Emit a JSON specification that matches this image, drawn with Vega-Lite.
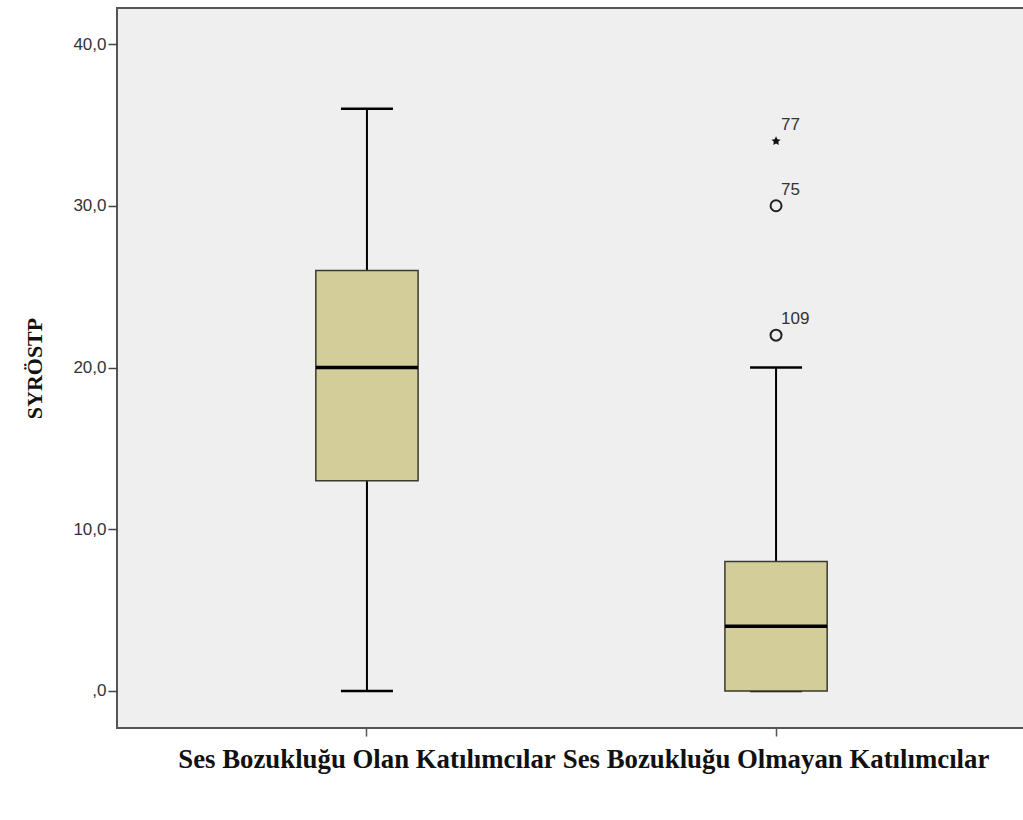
{
  "$schema": "https://vega.github.io/schema/vega-lite/v6.json",
  "autosize": "none",
  "width": 909,
  "height": 720,
  "padding": {"left": 117, "top": 8, "right": 0, "bottom": 92},
  "background": "white",
  "config": {
    "view": {"fill": "#efefef", "stroke": "#555555", "strokeWidth": 2},
    "axis": {"grid": false, "domain": false}
  },
  "datasets": {
    "box": [
      {"group": "Ses Bozukluğu Olan Katılımcılar", "min": 0, "q1": 13, "median": 20, "q3": 26, "max": 36},
      {"group": "Ses Bozukluğu Olmayan Katılımcılar", "min": 0, "q1": 0, "median": 4, "q3": 8, "max": 20}
    ],
    "out": [
      {"group": "Ses Bozukluğu Olmayan Katılımcılar", "value": 22, "id": "109", "kind": "circle"},
      {"group": "Ses Bozukluğu Olmayan Katılımcılar", "value": 30, "id": "75", "kind": "circle"},
      {"group": "Ses Bozukluğu Olmayan Katılımcılar", "value": 34, "id": "77", "kind": "star"}
    ]
  },
  "layer": [
    {
      "data": {"name": "box"},
      "mark": {"type": "rule", "color": "#000000", "strokeWidth": 2},
      "encoding": {
        "x": {
          "field": "group",
          "type": "nominal",
          "sort": null,
          "scale": {"paddingInner": 0, "paddingOuter": 0.111},
          "axis": {
            "title": null,
            "labelAngle": 0,
            "labelLimit": 0,
            "labelExpr": "indexof(datum.label, 'Olmayan') >= 0 ? '\u00a0\u00a0\u00a0\u00a0\u00a0\u00a0\u00a0\u00a0' + datum.label : '\u00a0' + datum.label",
            "labelFont": "Liberation Serif",
            "labelFontWeight": "bold",
            "labelFontSize": 26.8,
            "labelColor": "#111111",
            "labelPadding": 10,
            "labelOverlap": false,
            "tickColor": "#555555",
            "tickSize": 8,
            "tickWidth": 1.5
          }
        },
        "y": {
          "field": "min",
          "type": "quantitative",
          "scale": {"domain": [-2.29, 42.23], "nice": false, "zero": false},
          "axis": {
            "values": [0, 10, 20, 30, 40],
            "labelExpr": "datum.value === 0 ? ',0' : replace(format(datum.value, '.1f'), '.', ',')",
            "labelFont": "Liberation Sans",
            "labelFontSize": 17,
            "labelColor": "#333333",
            "labelPadding": 2,
            "tickColor": "#444444",
            "tickSize": 9,
            "tickWidth": 1.5,
            "title": "SYRÖSTP",
            "titleFont": "Liberation Serif",
            "titleFontWeight": "bold",
            "titleFontSize": 22,
            "titleColor": "#111111",
            "titlePadding": 26
          }
        },
        "y2": {"field": "max"}
      }
    },
    {
      "data": {"name": "box"},
      "mark": {"type": "tick", "color": "#000000", "opacity": 1, "size": 52, "thickness": 2.5},
      "encoding": {"x": {"field": "group", "type": "nominal", "sort": null}, "y": {"field": "min", "type": "quantitative"}}
    },
    {
      "data": {"name": "box"},
      "mark": {"type": "tick", "color": "#000000", "opacity": 1, "size": 52, "thickness": 2.5},
      "encoding": {"x": {"field": "group", "type": "nominal", "sort": null}, "y": {"field": "max", "type": "quantitative"}}
    },
    {
      "data": {"name": "box"},
      "mark": {"type": "bar", "fill": "#d3ce99", "opacity": 1, "stroke": "#3a3a30", "strokeWidth": 1.5, "width": {"band": 0.25}},
      "encoding": {
        "x": {"field": "group", "type": "nominal", "sort": null},
        "y": {"field": "q1", "type": "quantitative"},
        "y2": {"field": "q3"}
      }
    },
    {
      "data": {"name": "box"},
      "mark": {"type": "tick", "color": "#000000", "opacity": 1, "size": 102, "thickness": 3.5},
      "encoding": {"x": {"field": "group", "type": "nominal", "sort": null}, "y": {"field": "median", "type": "quantitative"}}
    },
    {
      "data": {"name": "out"},
      "transform": [{"filter": "datum.kind === 'circle'"}],
      "mark": {"type": "point", "shape": "circle", "filled": false, "color": "#222222", "strokeWidth": 2, "size": 120, "opacity": 1},
      "encoding": {"x": {"field": "group", "type": "nominal", "sort": null}, "y": {"field": "value", "type": "quantitative"}}
    },
    {
      "data": {"name": "out"},
      "transform": [{"filter": "datum.kind === 'star'"}],
      "mark": {"type": "point", "shape": "M0,-1L0.29,-0.4L0.95,-0.31L0.47,0.15L0.59,0.81L0,0.5L-0.59,0.81L-0.47,0.15L-0.95,-0.31L-0.29,-0.4Z", "filled": true, "color": "#111111", "size": 90, "opacity": 1},
      "encoding": {"x": {"field": "group", "type": "nominal", "sort": null}, "y": {"field": "value", "type": "quantitative"}}
    },
    {
      "data": {"name": "out"},
      "mark": {"type": "text", "align": "left", "baseline": "middle", "dx": 5, "dy": -16, "font": "Liberation Sans", "fontSize": 17, "color": "#333333"},
      "encoding": {
        "x": {"field": "group", "type": "nominal", "sort": null},
        "y": {"field": "value", "type": "quantitative"},
        "text": {"field": "id"}
      }
    }
  ]
}
